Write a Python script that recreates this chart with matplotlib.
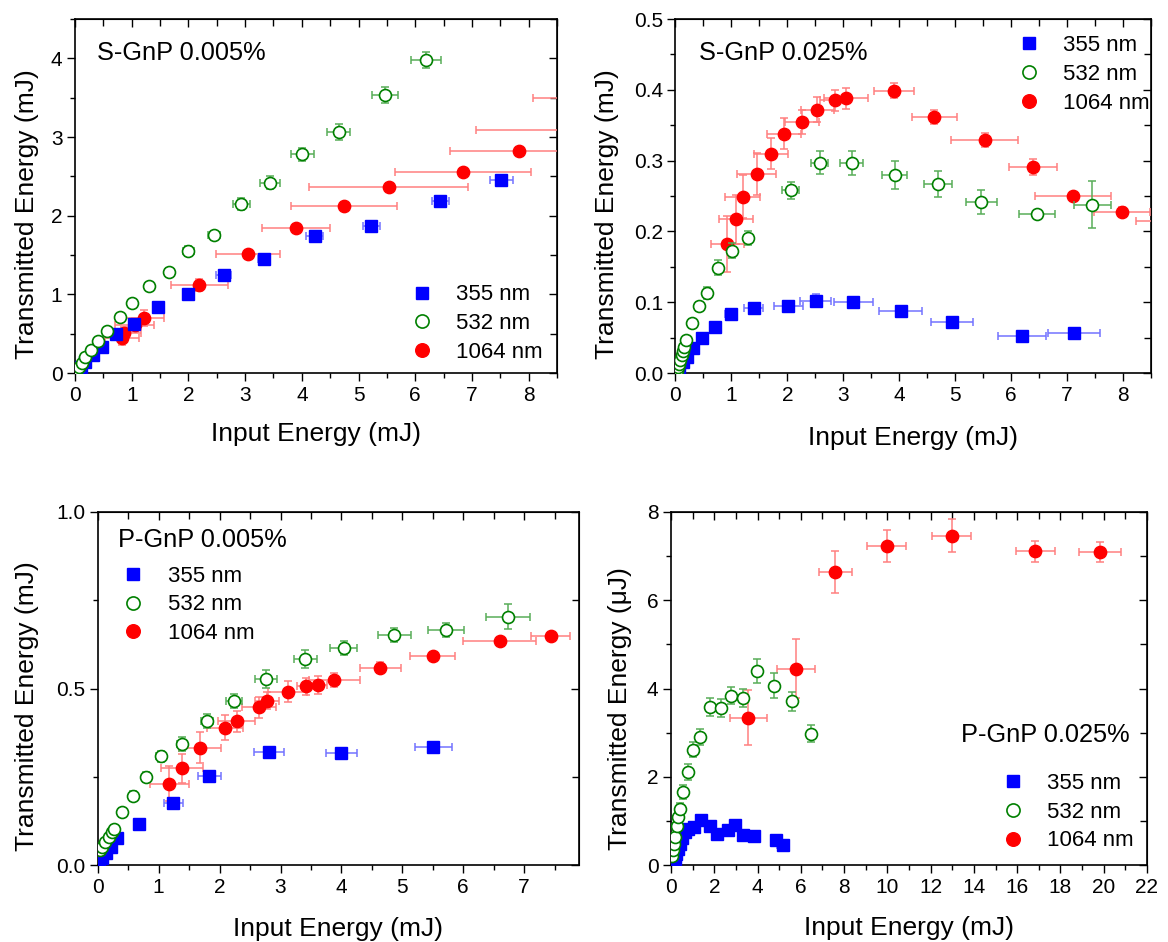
import matplotlib
matplotlib.use("Agg")
import matplotlib.pyplot as plt
from matplotlib.lines import Line2D
from matplotlib.ticker import MultipleLocator

plt.rcParams['font.family'] = ['Liberation Sans', 'DejaVu Sans']

# ---------------- S-GnP 0.005% ----------------
s005_355_x = [0.05, 0.10, 0.18, 0.31, 0.48, 0.72, 1.04, 1.46, 1.99, 2.62, 3.33, 4.23, 5.22, 6.44, 7.52]
s005_355_y = [0.05, 0.08, 0.14, 0.23, 0.33, 0.49, 0.62, 0.84, 1.01, 1.24, 1.45, 1.74, 1.87, 2.19, 2.45]
s005_355_xe = [0.01, 0.01, 0.01, 0.02, 0.02, 0.03, 0.04, 0.05, 0.06, 0.13, 0.10, 0.15, 0.15, 0.15, 0.20]
s005_355_ye = [0.01, 0.01, 0.01, 0.01, 0.02, 0.02, 0.02, 0.02, 0.03, 0.03, 0.03, 0.03, 0.03, 0.03, 0.03]

s005_532_x = [0.04, 0.07, 0.12, 0.18, 0.29, 0.40, 0.57, 0.80, 1.01, 1.31, 1.66, 2.00, 2.45, 2.93, 3.44, 4.01, 4.65, 5.46, 6.19]
s005_532_y = [0.05, 0.08, 0.13, 0.20, 0.29, 0.41, 0.54, 0.71, 0.89, 1.10, 1.29, 1.55, 1.75, 2.15, 2.42, 2.78, 3.06, 3.53, 3.98]
s005_532_xe = [0.01, 0.01, 0.01, 0.02, 0.02, 0.03, 0.04, 0.05, 0.05, 0.07, 0.08, 0.10, 0.10, 0.15, 0.17, 0.20, 0.20, 0.23, 0.26]
s005_532_ye = [0.01, 0.01, 0.02, 0.02, 0.02, 0.03, 0.03, 0.04, 0.04, 0.05, 0.05, 0.06, 0.06, 0.08, 0.08, 0.08, 0.10, 0.10, 0.10]

s005_1064_x = [0.83, 0.86, 1.05, 1.22, 2.19, 3.05, 3.90, 4.74, 5.53, 6.85, 7.83, 8.70, 9.60]
s005_1064_y = [0.44, 0.51, 0.61, 0.70, 1.12, 1.51, 1.84, 2.12, 2.36, 2.55, 2.82, 3.09, 3.50]
s005_1064_xe = [0.30, 0.30, 0.35, 0.35, 0.50, 0.57, 0.60, 0.93, 1.40, 1.20, 1.22, 1.62, 1.53]
s005_1064_ye = [0.08, 0.07, 0.09, 0.10, 0.08, 0.06, 0.05, 0.05, 0.05, 0.05, 0.05, 0.05, 0.05]

# ---------------- S-GnP 0.025% ----------------
s025_355_x = [0.035, 0.07, 0.13, 0.21, 0.31, 0.48, 0.71, 0.99, 1.40, 2.02, 2.51, 3.18, 4.03, 4.95, 6.20, 7.13]
s025_355_y = [0.003, 0.007, 0.015, 0.023, 0.035, 0.050, 0.065, 0.083, 0.092, 0.094, 0.102, 0.100, 0.087, 0.072, 0.053, 0.056]
s025_355_xe = [0.01, 0.01, 0.01, 0.02, 0.02, 0.03, 0.05, 0.10, 0.17, 0.26, 0.28, 0.35, 0.38, 0.38, 0.43, 0.46]
s025_355_ye = [0.002, 0.002, 0.002, 0.003, 0.003, 0.004, 0.004, 0.006, 0.006, 0.006, 0.009, 0.005, 0.004, 0.004, 0.004, 0.004]

s025_532_x = [0.03, 0.05, 0.06, 0.08, 0.11, 0.13, 0.15, 0.18, 0.29, 0.42, 0.56, 0.76, 1.01, 1.30, 2.06, 2.58, 3.15, 3.92, 4.69, 5.47, 6.47, 7.46]
s025_532_y = [0.003, 0.008, 0.013, 0.019, 0.025, 0.031, 0.037, 0.046, 0.070, 0.094, 0.113, 0.149, 0.173, 0.191, 0.258, 0.297, 0.297, 0.280, 0.267, 0.241, 0.224, 0.238]
s025_532_xe = [0.01, 0.01, 0.01, 0.01, 0.02, 0.02, 0.02, 0.02, 0.03, 0.04, 0.05, 0.06, 0.07, 0.08, 0.15, 0.15, 0.20, 0.22, 0.25, 0.28, 0.32, 0.33]
s025_532_ye = [0.004, 0.004, 0.004, 0.004, 0.004, 0.005, 0.005, 0.005, 0.006, 0.007, 0.008, 0.010, 0.010, 0.010, 0.012, 0.016, 0.017, 0.020, 0.019, 0.017, 0.005, 0.033]

s025_1064_x = [0.93, 1.08, 1.20, 1.45, 1.71, 1.94, 2.26, 2.54, 2.86, 3.05, 3.91, 4.63, 5.53, 6.40, 7.12, 7.99, 8.80]
s025_1064_y = [0.182, 0.217, 0.249, 0.281, 0.310, 0.338, 0.355, 0.372, 0.385, 0.388, 0.399, 0.362, 0.329, 0.291, 0.250, 0.228, 0.215]
s025_1064_xe = [0.30, 0.30, 0.32, 0.35, 0.30, 0.30, 0.30, 0.30, 0.27, 0.40, 0.35, 0.40, 0.60, 0.43, 0.68, 0.50, 0.56]
s025_1064_ye = [0.040, 0.035, 0.030, 0.030, 0.022, 0.022, 0.017, 0.018, 0.015, 0.015, 0.010, 0.010, 0.010, 0.012, 0.006, 0.006, 0.006]

# ---------------- P-GnP 0.005% ----------------
p005_355_x = [0.02, 0.066, 0.14, 0.22, 0.32, 0.67, 1.24, 1.83, 2.81, 4.00, 5.51]
p005_355_y = [0.012, 0.020, 0.035, 0.052, 0.076, 0.117, 0.177, 0.253, 0.320, 0.319, 0.334]
p005_355_xe = [0.01, 0.01, 0.01, 0.02, 0.03, 0.06, 0.16, 0.19, 0.24, 0.26, 0.30]
p005_355_ye = [0.003, 0.003, 0.004, 0.004, 0.005, 0.006, 0.008, 0.008, 0.008, 0.008, 0.008]

p005_532_x = [0.04, 0.07, 0.12, 0.18, 0.23, 0.27, 0.40, 0.58, 0.80, 1.03, 1.38, 1.80, 2.24, 2.76, 3.41, 4.04, 4.87, 5.72, 6.74]
p005_532_y = [0.043, 0.053, 0.067, 0.081, 0.095, 0.103, 0.150, 0.197, 0.250, 0.308, 0.344, 0.408, 0.465, 0.526, 0.583, 0.614, 0.652, 0.665, 0.703]
p005_532_xe = [0.01, 0.01, 0.01, 0.02, 0.02, 0.02, 0.03, 0.04, 0.05, 0.07, 0.08, 0.10, 0.13, 0.18, 0.19, 0.22, 0.27, 0.30, 0.36]
p005_532_ye = [0.006, 0.006, 0.007, 0.008, 0.009, 0.010, 0.012, 0.014, 0.015, 0.015, 0.020, 0.020, 0.020, 0.025, 0.025, 0.020, 0.020, 0.020, 0.035]

p005_1064_x = [1.17, 1.38, 1.68, 2.09, 2.28, 2.65, 2.78, 3.12, 3.42, 3.61, 3.88, 4.64, 5.50, 6.60, 7.44]
p005_1064_y = [0.231, 0.274, 0.333, 0.389, 0.407, 0.447, 0.466, 0.491, 0.506, 0.510, 0.524, 0.559, 0.592, 0.634, 0.648]
p005_1064_xe = [0.32, 0.34, 0.35, 0.30, 0.30, 0.28, 0.20, 0.32, 0.15, 0.15, 0.42, 0.33, 0.37, 0.60, 0.32]
p005_1064_ye = [0.050, 0.040, 0.045, 0.035, 0.030, 0.030, 0.025, 0.030, 0.025, 0.025, 0.020, 0.015, 0.012, 0.010, 0.010]

# ---------------- P-GnP 0.025% (transmitted energy in uJ) ----------------
p025_355_x = [0.12, 0.18, 0.25, 0.34, 0.42, 0.52, 0.65, 0.78, 1.05, 1.37, 1.78, 2.11, 2.65, 2.95, 3.34, 3.85, 4.86, 5.17]
p025_355_y = [0.07, 0.15, 0.25, 0.36, 0.49, 0.62, 0.75, 0.82, 0.86, 1.03, 0.89, 0.71, 0.79, 0.92, 0.69, 0.67, 0.58, 0.46]
p025_355_xe = [0.01, 0.01, 0.02, 0.02, 0.03, 0.03, 0.04, 0.05, 0.06, 0.08, 0.10, 0.12, 0.14, 0.15, 0.17, 0.20, 0.20, 0.25]
p025_355_ye = [0.02, 0.02, 0.02, 0.03, 0.03, 0.03, 0.04, 0.04, 0.04, 0.05, 0.05, 0.05, 0.05, 0.06, 0.05, 0.05, 0.05, 0.05]

p025_532_x = [0.06, 0.09, 0.14, 0.18, 0.26, 0.34, 0.42, 0.56, 0.77, 1.01, 1.35, 1.80, 2.29, 2.75, 3.32, 3.98, 4.77, 5.60, 6.48]
p025_532_y = [0.20, 0.34, 0.49, 0.65, 0.88, 1.09, 1.28, 1.66, 2.11, 2.62, 2.91, 3.58, 3.56, 3.84, 3.78, 4.39, 4.06, 3.71, 2.98]
p025_532_xe = [0.02, 0.02, 0.02, 0.03, 0.03, 0.04, 0.04, 0.05, 0.06, 0.07, 0.08, 0.10, 0.12, 0.15, 0.20, 0.15, 0.20, 0.20, 0.12]
p025_532_ye = [0.05, 0.06, 0.07, 0.08, 0.10, 0.12, 0.13, 0.15, 0.18, 0.18, 0.18, 0.20, 0.20, 0.20, 0.20, 0.27, 0.28, 0.22, 0.20]

p025_1064_x = [3.57, 5.79, 7.60, 9.97, 12.98, 16.83, 19.82]
p025_1064_y = [3.34, 4.45, 6.64, 7.22, 7.46, 7.10, 7.09]
p025_1064_xe = [0.85, 0.87, 0.77, 0.90, 0.90, 0.90, 0.97]
p025_1064_ye = [0.62, 0.67, 0.47, 0.36, 0.38, 0.23, 0.23]

labels = ['355 nm', '532 nm', '1064 nm']

BLUE = '#0000FF'
GREEN = '#008000'
RED = '#FF0000'

styles = {
    '355': dict(marker='s', mfc=BLUE, mec=BLUE, ecolor=(0.45, 0.45, 1.0), ms=8.0, mew=1.0),
    '532': dict(marker='o', mfc='white', mec=GREEN, ecolor=(0.35, 0.68, 0.35), ms=8.6, mew=1.2),
    '1064': dict(marker='o', mfc=RED, mec=RED, ecolor=(1.0, 0.5, 0.5), ms=8.9, mew=1.0),
}


def series(ax, key, x, y, xe, ye, z):
    st = styles[key]
    ax.errorbar(x, y, xerr=xe, yerr=ye, fmt='none', ecolor=st['ecolor'],
                elinewidth=1.1, capsize=2.6, capthick=1.1, zorder=z)
    ax.plot(x, y, linestyle='none', marker=st['marker'], ms=st['ms'],
            mfc=st['mfc'], mec=st['mec'], mew=st['mew'], zorder=z + 0.5)


def legend_handles():
    hs = []
    for key in ['355', '532', '1064']:
        st = styles[key]
        hs.append(Line2D([], [], linestyle='none', marker=st['marker'], ms=st['ms'] * 1.1,
                         mfc=st['mfc'], mec=st['mec'], mew=st['mew']))
    return hs


def style_axes(ax, xmaj, xmin, ymaj, ymin, xlim, ylim, yfmt=None):
    ax.set_xlim(*xlim)
    ax.set_ylim(*ylim)
    ax.xaxis.set_major_locator(MultipleLocator(xmaj))
    ax.xaxis.set_minor_locator(MultipleLocator(xmin))
    ax.yaxis.set_major_locator(MultipleLocator(ymaj))
    ax.yaxis.set_minor_locator(MultipleLocator(ymin))
    if yfmt:
        ax.yaxis.set_major_formatter(yfmt)
    ax.tick_params(which='both', direction='out', width=1.0, labelsize=15, pad=3)
    ax.tick_params(which='major', length=6)
    ax.tick_params(which='minor', length=3.5)
    for sp in ax.spines.values():
        sp.set_linewidth(1.2)
    # mirrored ticks pointing inward on the top and right spines
    top = ax.secondary_xaxis('top')
    top.xaxis.set_major_locator(MultipleLocator(xmaj))
    top.xaxis.set_minor_locator(MultipleLocator(xmin))
    top.tick_params(which='both', direction='in', labeltop=False, width=1.0)
    top.tick_params(which='major', length=6)
    top.tick_params(which='minor', length=5)
    right = ax.secondary_yaxis('right')
    right.yaxis.set_major_locator(MultipleLocator(ymaj))
    right.yaxis.set_minor_locator(MultipleLocator(ymin))
    right.tick_params(which='both', direction='in', labelright=False, width=1.0)
    right.tick_params(which='major', length=6)
    right.tick_params(which='minor', length=5)


def legend(ax, loc, anchor):
    ax.legend(legend_handles(), labels, loc=loc, bbox_to_anchor=anchor,
              frameon=False, fontsize=16, handlelength=1.0, handletextpad=1.05,
              labelspacing=0.35)


fig = plt.figure(figsize=(11.68, 9.42), dpi=100)

ax1 = fig.add_axes([0.0642, 0.6040, 0.4127, 0.3758])
ax2 = fig.add_axes([0.5783, 0.6040, 0.4068, 0.3758])
ax3 = fig.add_axes([0.0837, 0.0814, 0.4120, 0.3754])
ax4 = fig.add_axes([0.5745, 0.0814, 0.4075, 0.3754])

# panel 1
series(ax1, '1064', s005_1064_x, s005_1064_y, s005_1064_xe, s005_1064_ye, 3)
series(ax1, '355', s005_355_x, s005_355_y, s005_355_xe, s005_355_ye, 4)
series(ax1, '532', s005_532_x, s005_532_y, s005_532_xe, s005_532_ye, 5)
style_axes(ax1, 1, 0.5, 1, 0.5, (0, 8.5), (0, 4.5))
ax1.text(0.046, 0.905, 'S-GnP 0.005%', transform=ax1.transAxes, fontsize=18.3, va='center')
legend(ax1, 'lower right', (1.012, -0.028))

# panel 2
series(ax2, '1064', s025_1064_x, s025_1064_y, s025_1064_xe, s025_1064_ye, 3)
series(ax2, '355', s025_355_x, s025_355_y, s025_355_xe, s025_355_ye, 4)
series(ax2, '532', s025_532_x, s025_532_y, s025_532_xe, s025_532_ye, 5)
style_axes(ax2, 1, 0.5, 0.1, 0.05, (0, 8.5), (0, 0.5), yfmt='{x:.1f}')
ax2.text(0.05, 0.905, 'S-GnP 0.025%', transform=ax2.transAxes, fontsize=18.3, va='center')
legend(ax2, 'upper right', (1.04, 1.011))

# panel 3
series(ax3, '1064', p005_1064_x, p005_1064_y, p005_1064_xe, p005_1064_ye, 3)
series(ax3, '355', p005_355_x, p005_355_y, p005_355_xe, p005_355_ye, 4)
series(ax3, '532', p005_532_x, p005_532_y, p005_532_xe, p005_532_ye, 5)
style_axes(ax3, 1, 0.5, 0.5, 0.25, (0, 7.9), (0, 1.0), yfmt='{x:.1f}')
ax3.text(0.043, 0.92, 'P-GnP 0.005%', transform=ax3.transAxes, fontsize=18.3, va='center')
legend(ax3, 'upper left', (0.009, 0.904))

# panel 4
series(ax4, '1064', p025_1064_x, p025_1064_y, p025_1064_xe, p025_1064_ye, 3)
series(ax4, '355', p025_355_x, p025_355_y, p025_355_xe, p025_355_ye, 4)
series(ax4, '532', p025_532_x, p025_532_y, p025_532_xe, p025_532_ye, 5)
style_axes(ax4, 2, 1, 2, 1, (0, 22), (0, 8))
ax4.text(0.61, 0.368, 'P-GnP 0.025%', transform=ax4.transAxes, fontsize=18.3, va='center')
legend(ax4, 'lower right', (1.014, -0.017))

ylabel_coords = [(-0.075, 0.449), (-0.119, 0.449), (-0.122, 0.45), (-0.082, 0.442)]
xlabel_y = [-0.137, -0.149, -0.145, -0.143]
for i, ax in enumerate((ax1, ax2, ax3, ax4)):
    unit = 'mJ' if i < 3 else '\u03bcJ'
    ax.set_ylabel(f'Transmitted Energy ({unit})', fontsize=19)
    ax.yaxis.set_label_coords(*ylabel_coords[i])
    ax.set_xlabel('Input Energy (mJ)', fontsize=19)
    ax.xaxis.set_label_coords(0.5, xlabel_y[i])

fig.savefig('out.png', dpi=100, facecolor='white')
